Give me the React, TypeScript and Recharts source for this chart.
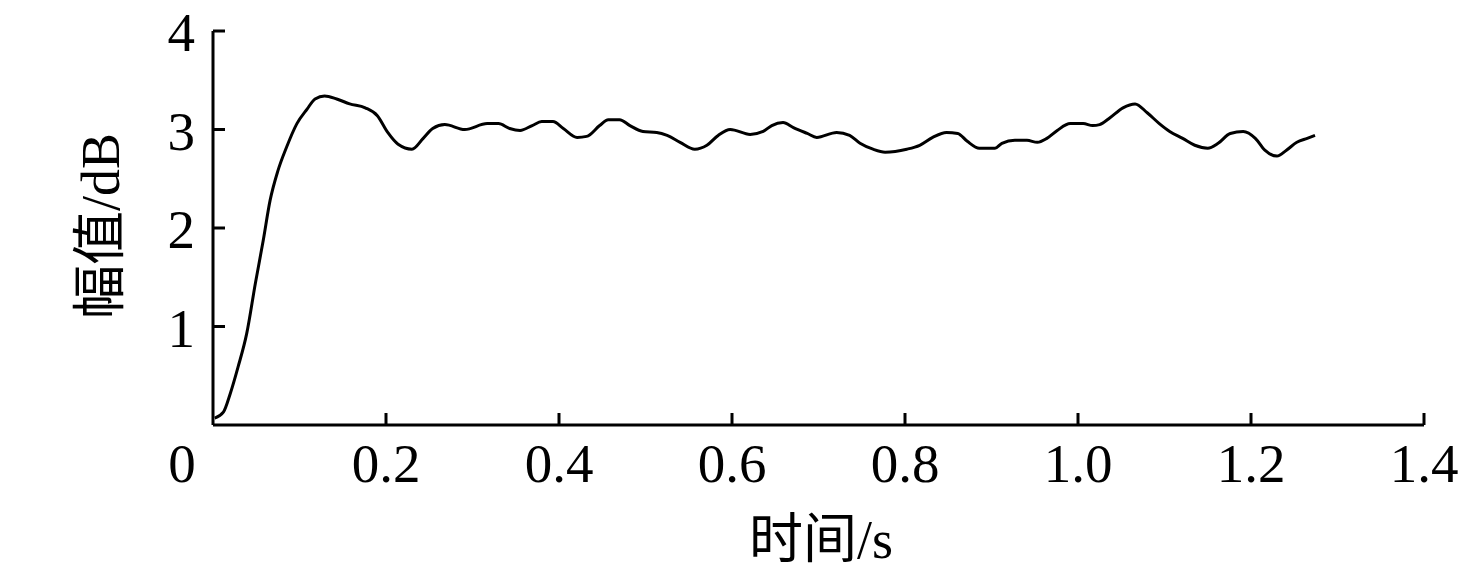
import { LineChart, Line, XAxis, YAxis } from 'recharts'

const time = [
  0.002, 0.012, 0.02, 0.029, 0.039, 0.049, 0.058, 0.066, 0.075, 0.085, 0.097, 0.109, 0.118, 0.129,
  0.143, 0.158, 0.176, 0.19, 0.202, 0.214, 0.23, 0.243, 0.254, 0.268, 0.291, 0.317, 0.33, 0.343,
  0.355, 0.369, 0.38, 0.393, 0.405, 0.421, 0.432, 0.447, 0.457, 0.47, 0.482, 0.497, 0.513, 0.525,
  0.54, 0.557, 0.571, 0.584, 0.598, 0.621, 0.636, 0.646, 0.659, 0.671, 0.687, 0.698, 0.721, 0.736,
  0.748, 0.763, 0.777, 0.802, 0.817, 0.832, 0.848, 0.861, 0.872, 0.886, 0.904, 0.912, 0.927, 0.941,
  0.953, 0.964, 0.976, 0.991, 1.006, 1.017, 1.025, 1.037, 1.052, 1.066, 1.08, 1.094, 1.106, 1.121,
  1.135, 1.15, 1.162, 1.176, 1.191, 1.205, 1.216, 1.23, 1.241, 1.253, 1.265, 1.274
]

const amplitude = [
  0.07, 0.13, 0.32, 0.59, 0.93, 1.44, 1.87, 2.28, 2.58, 2.82, 3.06, 3.21, 3.31, 3.34,
  3.31, 3.26, 3.22, 3.14, 2.97, 2.85, 2.8, 2.91, 3.01, 3.05, 3.0, 3.06, 3.06, 3.01,
  2.99, 3.04, 3.08, 3.08, 3.01, 2.92, 2.93, 3.04, 3.1, 3.1, 3.04, 2.98, 2.97, 2.94,
  2.87, 2.8, 2.84, 2.94, 3.0, 2.95, 2.98, 3.04, 3.07, 3.02, 2.96, 2.92, 2.97, 2.94,
  2.86, 2.8, 2.77, 2.8, 2.84, 2.92, 2.97, 2.96, 2.88, 2.81, 2.81, 2.86, 2.89, 2.89,
  2.87, 2.91, 2.99, 3.06, 3.06, 3.04, 3.05, 3.12, 3.22, 3.26, 3.17, 3.06, 2.98, 2.91,
  2.84, 2.81, 2.86, 2.96, 2.98, 2.91, 2.79, 2.73, 2.79, 2.87, 2.91, 2.94
]

const xTicks = [0, 0.2, 0.4, 0.6, 0.8, 1.0, 1.2, 1.4]
const xTickLabels = ['0', '0.2', '0.4', '0.6', '0.8', '1.0', '1.2', '1.4']
const yTicks = [0, 1, 2, 3, 4]

const data = time.map((t, i) => ({ t, v: amplitude[i] }))

const serif = '"Liberation Serif", "Times New Roman", "Noto Sans CJK SC", serif'
const fontSize = 55

function XTick(props: any) {
  const { x, y, payload, index } = props
  const isOrigin = payload.value === 0
  return (
    <g>
      {!isOrigin && <line x1={x} y1={y} x2={x} y2={y - 12} stroke="#000" strokeWidth={3} />}
      <text x={isOrigin ? 182 : x} y={y + 57} textAnchor="middle" fontFamily={serif} fontSize={fontSize} fill="#000">
        {xTickLabels[index]}
      </text>
    </g>
  )
}

function YTick(props: any) {
  const { x, y, payload } = props
  if (payload.value === 0) return <g />
  return (
    <g>
      <line x1={x} y1={y} x2={x + 12} y2={y} stroke="#000" strokeWidth={3} />
      <text x={x - 18} y={y + 20} textAnchor="end" fontFamily={serif} fontSize={fontSize} fill="#000">
        {payload.value}
      </text>
    </g>
  )
}

export default function App() {
  return (
    <div style={{ width: 1471, height: 572, background: '#fff' }}>
      <style>{'body{margin:0}'}</style>
      <LineChart width={1471} height={572} data={data} margin={{ top: 31, right: 47, bottom: 47, left: 153 }}>
        <XAxis
          type="number"
          dataKey="t"
          domain={[0, 1.4]}
          ticks={xTicks}
          tick={<XTick />}
          tickSize={0}
          tickMargin={0}
          tickLine={false}
          height={100}
          axisLine={{ stroke: '#000', strokeWidth: 3 }}
          interval={0}
          label={{
            content: () => (
              <text x={821} y={558} textAnchor="middle" fontFamily={serif} fontSize={54} fill="#000">
                时间/s
              </text>
            )
          }}
        />
        <YAxis
          type="number"
          domain={[0, 4]}
          ticks={yTicks}
          tick={<YTick />}
          tickSize={0}
          tickMargin={0}
          tickLine={false}
          width={60}
          axisLine={{ stroke: '#000', strokeWidth: 3 }}
          interval={0}
          label={{
            content: () => (
              <text
                transform="translate(119,226) rotate(-90)"
                textAnchor="middle"
                fontFamily={serif}
                fontSize={54}
                fill="#000"
              >
                幅值/dB
              </text>
            )
          }}
        />
        <Line
          type="monotone"
          dataKey="v"
          stroke="#000"
          strokeWidth={3}
          dot={false}
          isAnimationActive={false}
        />
      </LineChart>
    </div>
  )
}
